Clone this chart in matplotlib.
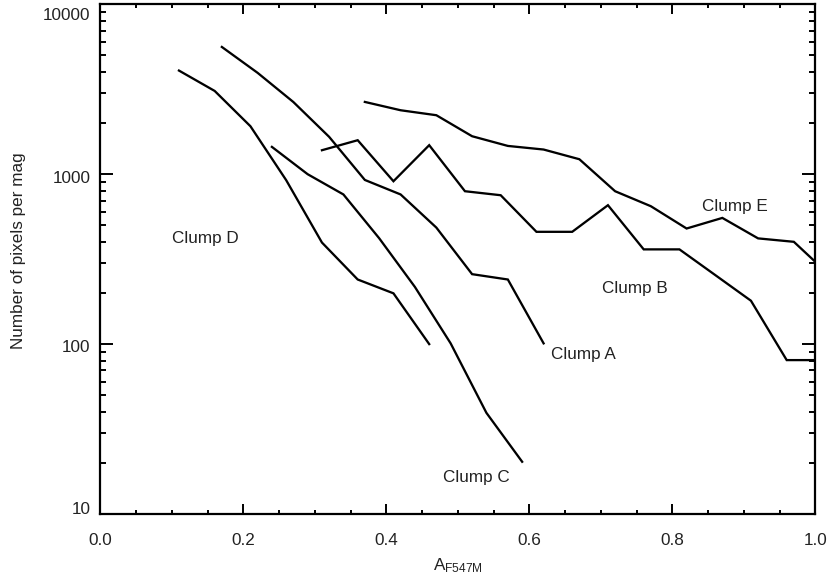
import matplotlib
matplotlib.use("Agg")
import matplotlib.pyplot as plt
from matplotlib.ticker import FixedLocator, LogLocator, NullFormatter, MultipleLocator
import matplotlib.transforms as mtransforms

plt.rcParams['font.family'] = ['Liberation Sans', 'DejaVu Sans']
plt.rcParams['mathtext.fontset'] = 'custom'
plt.rcParams['mathtext.rm'] = 'Liberation Sans'
plt.rcParams['mathtext.it'] = 'Liberation Sans'

# ---- data ----
clump_a_x = [0.17, 0.22, 0.27, 0.32, 0.37, 0.42, 0.47, 0.52, 0.57, 0.62]
clump_a_y = [5610, 3950, 2660, 1660, 925, 760, 485, 258, 240, 101]

clump_b_x = [0.31, 0.36, 0.41, 0.46, 0.51, 0.56, 0.61, 0.66, 0.71, 0.76, 0.81, 0.86, 0.91, 0.96, 1.01]
clump_b_y = [1384, 1585, 909, 1482, 794, 752, 458, 458, 657, 361, 361, 255, 180, 80.5, 80.5]

clump_c_x = [0.24, 0.29, 0.34, 0.39, 0.44, 0.49, 0.54, 0.59]
clump_c_y = [1448, 1000, 760, 420, 217, 101, 39.4, 20.3]

clump_d_x = [0.11, 0.16, 0.21, 0.26, 0.31, 0.36, 0.41, 0.46]
clump_d_y = [4074, 3090, 1915, 922, 396, 240, 199, 100]

clump_e_x = [0.37, 0.42, 0.47, 0.52, 0.57, 0.62, 0.67, 0.72, 0.77, 0.82, 0.87, 0.92, 0.97, 1.00]
clump_e_y = [2663, 2379, 2224, 1673, 1467, 1397, 1225, 794, 648, 479, 553, 419, 400, 305]

labels = ["Clump A", "Clump B", "Clump C", "Clump D", "Clump E"]
label_x = [0.631, 0.701, 0.479, 0.100, 0.841]
label_y = [87.3, 213, 16.3, 421, 648]

x_ticks = [0.0, 0.2, 0.4, 0.6, 0.8, 1.0]
x_tick_labels = ["0.0", "0.2", "0.4", "0.6", "0.8", "1.0"]
y_ticks = [10, 100, 1000, 10000]
y_tick_labels = ["10", "100", "1000", "10000"]

# ---- figure ----
fig = plt.figure(figsize=(8.31, 5.82), dpi=100)
ax = fig.add_axes([100.3 / 831, 68 / 582, 715 / 831, 509.7 / 582])

lw = 1.65
for xs, ys in [(clump_a_x, clump_a_y), (clump_b_x, clump_b_y), (clump_c_x, clump_c_y),
               (clump_d_x, clump_d_y), (clump_e_x, clump_e_y)]:
    ax.plot(xs, ys, color='black', lw=lw, solid_joinstyle='miter')

ax.set_yscale('log')
ax.set_xlim(0.0, 1.0)
ax.set_ylim(10, 10000)

fs = 12.3
for t, xx, yy in zip(labels, label_x, label_y):
    ax.text(xx, yy, t, ha='left', va='center', fontsize=fs, color='#222222')

ax.xaxis.set_major_locator(FixedLocator(x_ticks))
ax.set_xticklabels(x_tick_labels)
ax.xaxis.set_minor_locator(MultipleLocator(0.05))
ax.yaxis.set_major_locator(FixedLocator(y_ticks))
ax.set_yticklabels(y_tick_labels)
ax.yaxis.set_minor_locator(LogLocator(base=10, subs=[2, 3, 4, 5, 6, 7, 8, 9]))
ax.yaxis.set_minor_formatter(NullFormatter())

ax.tick_params(axis='both', which='both', direction='in', top=True, right=True,
               width=1.4, labelsize=fs, colors='black', labelcolor='#222222')
ax.tick_params(axis='x', which='major', length=7.2, pad=14.0)
ax.tick_params(axis='x', which='minor', length=3.1)
ax.tick_params(axis='y', which='major', length=9.6, pad=6.9)
ax.tick_params(axis='y', which='minor', length=4.5)

for s in ax.spines.values():
    s.set_linewidth(1.6)

# shift y tick labels like the reference
offsets_px = {"10": 6.5, "100": -2.4, "1000": -3.2, "10000": -10}
for lab in ax.get_yticklabels():
    dy = offsets_px.get(lab.get_text(), 0)
    lab.set_transform(lab.get_transform() + mtransforms.ScaledTranslation(0, dy / 100, fig.dpi_scale_trans))

ax.set_ylabel("Number of pixels per mag", fontsize=fs, color='#222222', va='center')
ax.yaxis.set_label_coords((19 - 100.3) / 715, (514 - 251) / 509.7)
ax.set_xlabel(r"A$_{\mathrm{F547M}}$", fontsize=fs, color='#222222')
ax.xaxis.set_label_coords(0.5, (514 - 556) / 509.7)

fig.savefig("out.png", dpi=100)
